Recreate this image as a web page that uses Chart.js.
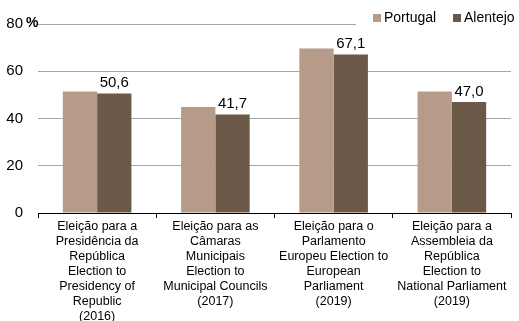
<!DOCTYPE html>
<html>
<head>
<meta charset="utf-8">
<script src="https://cdn.jsdelivr.net/npm/chart.js@4.4.1/dist/chart.umd.min.js"></script>
<style>
  html, body { margin: 0; padding: 0; background: #fff; }
  #wrap { width: 519px; height: 321px; position: relative; }
</style>
</head>
<body>
<div id="wrap"><canvas id="chart"></canvas></div>
<script>
const categories = [
  ['Eleição para a', 'Presidência da', 'República', 'Election to', 'Presidency of', 'Republic', '(2016)'],
  ['Eleição para as', 'Câmaras', 'Municipais', 'Election to', 'Municipal Councils', '(2017)'],
  ['Eleição para o', 'Parlamento', 'Europeu Election to', 'European', 'Parliament', '(2019)'],
  ['Eleição para a', 'Assembleia da', 'República', 'Election to', 'National Parliament', '(2019)']
];
const portugal = [51.4, 44.9, 69.6, 51.4];
const alentejo = [50.6, 41.7, 67.1, 47.0];
const yTicks = [0, 20, 40, 60, 80];

const FONT = 'Liberation Sans, Arial, sans-serif';

// value labels over the Alentejo bars, the "%" unit and the legend
const overlay = {
  id: 'overlay',
  afterDatasetsDraw(chart) {
    const ctx = chart.ctx;
    const meta = chart.getDatasetMeta(1);
    ctx.save();
    ctx.fillStyle = '#000';
    ctx.font = '15px ' + FONT;
    ctx.textAlign = 'center';
    ctx.textBaseline = 'bottom';
    meta.data.forEach((bar, i) => {
      ctx.fillText(alentejo[i].toFixed(1).replace('.', ','), bar.x, bar.y - 3);
    });

    ctx.font = 'bold 14px ' + FONT;
    ctx.textAlign = 'left';
    ctx.textBaseline = 'middle';
    ctx.fillText('%', 26, chart.scales.y.getPixelForValue(80) - 1);

    // legend
    const ly = 18;
    ctx.fillStyle = '#fff';
    ctx.fillRect(356, ly - 8, 163, 16);
    ctx.font = '14px ' + FONT;
    const items = [[373, chart.data.datasets[0]], [453, chart.data.datasets[1]]];
    items.forEach(([x, ds]) => {
      ctx.fillStyle = ds.backgroundColor;
      ctx.fillRect(x, ly - 4, 8, 8);
      ctx.fillStyle = '#000';
      ctx.fillText(ds.label, x + 11, ly);
    });
    ctx.restore();
  }
};

new Chart(document.getElementById('chart'), {
  type: 'bar',
  data: {
    labels: categories,
    datasets: [
      { label: 'Portugal', data: portugal, backgroundColor: '#b69b89' },
      { label: 'Alentejo', data: alentejo, backgroundColor: '#6b5847' }
    ]
  },
  options: {
    responsive: true,
    maintainAspectRatio: false,
    animation: false,
    datasets: { bar: { categoryPercentage: 0.58, barPercentage: 1.0 } },
    layout: { padding: { top: 19, right: 8, left: 0, bottom: 0 } },
    plugins: { legend: { display: false }, tooltip: { enabled: false } },
    scales: {
      x: {
        grid: { drawOnChartArea: false, drawTicks: true, tickLength: 5, color: '#000', offset: true },
        border: { color: '#000', width: 1 },
        ticks: {
          color: '#000',
          font: { family: FONT, size: 12.5, lineHeight: 1.2 },
          padding: 1,
          maxRotation: 0,
          autoSkip: false
        },
        afterFit(s) { s.height = 108; }
      },
      y: {
        min: 0,
        max: 80,
        afterBuildTicks(s) { s.ticks = yTicks.map(v => ({ value: v })); },
        grid: { color: '#a6a6a6', drawTicks: false },
        border: { display: false },
        ticks: { color: '#000', font: { family: FONT, size: 15 }, padding: 15 },
        afterFit(s) { s.width = 38; }
      }
    }
  },
  plugins: [overlay]
});
</script>
</body>
</html>
